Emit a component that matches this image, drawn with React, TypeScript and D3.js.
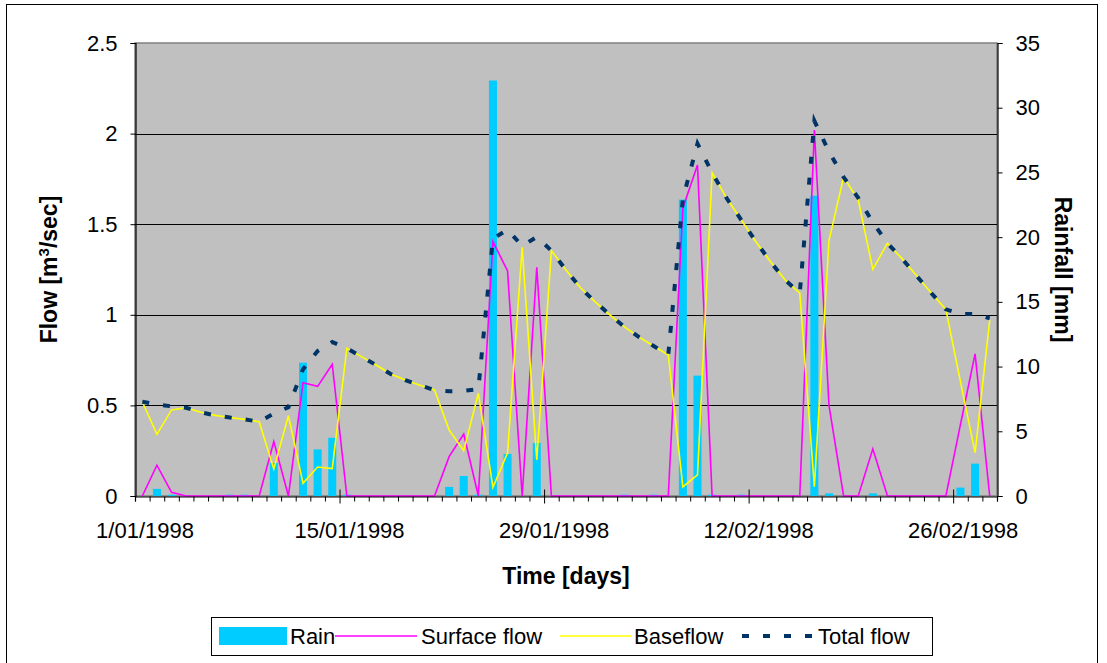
import * as d3 from 'd3';
import React, { useRef, useEffect } from 'react';

const width = 1107;
const height = 663;
const plot = { left: 135, right: 997, top: 43, bottom: 496 };

// one category per day, 1 Jan .. 28 Feb 1998
const days = d3.timeDay.range(new Date(1998, 0, 1), new Date(1998, 2, 1));

const xTickLabels = ['1/01/1998', '15/01/1998', '29/01/1998', '12/02/1998', '26/02/1998'];
const xTickIndex = [0, 14, 28, 42, 56];
const flowTicks = [0, 0.5, 1, 1.5, 2, 2.5];
const rainTicks = [0, 5, 10, 15, 20, 25, 30, 35];

// rainfall [mm]
const rain = [
  0, 0.55, 0.1, 0, 0, 0, 0.1, 0.1, 0, 2.55,
  0, 10.3, 3.6, 4.5, 0.1, 0, 0, 0, 0, 0,
  0, 0.7, 1.55, 0.1, 32.1, 3.25, 0, 4.1, 0, 0,
  0, 0, 0, 0.1, 0, 0.1, 0, 22.9, 9.3, 0.1,
  0, 0.1, 0, 0, 0, 0, 23.2, 0.2, 0, 0,
  0.2, 0, 0, 0, 0, 0, 0.65, 2.5, 0,
];

// surface flow [m3/sec]
const surface = [
  0, 0.17, 0.02, 0, 0, 0, 0, 0, 0, 0.3,
  0, 0.625, 0.605, 0.727, 0, 0, 0, 0, 0, 0,
  0, 0.217, 0.342, 0, 1.404, 1.242, 0, 1.262, 0, 0,
  0, 0, 0, 0, 0, 0, 0, 1.59, 1.827, 0,
  0, 0, 0, 0, 0, 0, 2.02, 0.5, 0, 0,
  0.26, 0, 0, 0, 0, 0, 0.395, 0.784, 0,
];

// baseflow [m3/sec]
const baseflow = [
  0.52, 0.34, 0.475, 0.487, 0.462, 0.445, 0.433, 0.423, 0.41, 0.149,
  0.443, 0.07, 0.16, 0.151, 0.815, 0.769, 0.723, 0.673, 0.64, 0.611,
  0.585, 0.364, 0.25, 0.567, 0.048, 0.239, 1.372, 0.199, 1.354, 1.247,
  1.148, 1.071, 1.0, 0.933, 0.877, 0.828, 0.778, 0.05, 0.116, 1.784,
  1.643, 1.523, 1.403, 1.293, 1.192, 1.119, 0.051, 1.41, 1.76, 1.634,
  1.251, 1.395, 1.31, 1.215, 1.12, 1.03, 0.63, 0.239, 0.971,
];

// total flow [m3/sec]
const total = [
  0.52, 0.505, 0.495, 0.487, 0.462, 0.445, 0.433, 0.423, 0.41, 0.455,
  0.49, 0.7, 0.8, 0.85, 0.815, 0.769, 0.723, 0.673, 0.64, 0.611,
  0.585, 0.578, 0.58, 0.59, 1.42, 1.47, 1.38, 1.43, 1.354, 1.247,
  1.148, 1.071, 1.0, 0.933, 0.877, 0.828, 0.778, 1.64, 1.945, 1.784,
  1.643, 1.523, 1.403, 1.293, 1.192, 1.119, 2.07, 1.9, 1.76, 1.645,
  1.51, 1.395, 1.31, 1.215, 1.12, 1.03, 1.005, 1.005, 0.98,
];

const font = '"Liberation Sans", Arial, sans-serif';

function App() {
  const ref = useRef<SVGSVGElement>(null);

  useEffect(() => {
    draw();
  }, []); // eslint-disable-line react-hooks/exhaustive-deps

  const draw = () => {
    const svg = d3.select(ref.current);
    svg.selectAll('*').remove();

    const x = d3.scaleLinear().domain([0, days.length]).range([plot.left, plot.right]);
    const band = (plot.right - plot.left) / days.length;
    const yFlow = d3.scaleLinear().domain([0, 2.5]).range([plot.bottom, plot.top]);
    const yRain = d3.scaleLinear().domain([0, 35]).range([plot.bottom, plot.top]);

    // chart area border
    svg
      .append('rect')
      .attr('x', 6.5)
      .attr('y', 4.5)
      .attr('width', 1091)
      .attr('height', 700)
      .attr('fill', '#fff')
      .attr('stroke', '#000');

    // plot area
    svg
      .append('rect')
      .attr('x', plot.left)
      .attr('y', plot.top)
      .attr('width', plot.right - plot.left)
      .attr('height', plot.bottom - plot.top)
      .attr('fill', '#c0c0c0')
      .attr('stroke', '#808080')
      .attr('stroke-width', 1.5);

    // gridlines
    svg
      .append('g')
      .selectAll('line')
      .data(flowTicks.slice(1, -1))
      .enter()
      .append('line')
      .attr('x1', plot.left)
      .attr('x2', plot.right)
      .attr('y1', (d) => Math.round(yFlow(d)) + 0.5)
      .attr('y2', (d) => Math.round(yFlow(d)) + 0.5)
      .attr('stroke', '#000');

    // rain bars
    const barW = band * 0.55;
    svg
      .append('g')
      .selectAll('rect')
      .data(rain)
      .enter()
      .append('rect')
      .attr('x', (d, i) => x(i + 0.5) - barW / 2)
      .attr('y', (d) => yRain(d))
      .attr('width', barW)
      .attr('height', (d) => yRain(0) - yRain(d))
      .attr('fill', '#00ccff');

    const line = d3
      .line<number>()
      .x((d, i) => x(i + 0.5))
      .y((d) => yFlow(d));

    svg.append('path').attr('d', line(surface)).attr('fill', 'none').attr('stroke', '#ff00ff').attr('stroke-width', 1.6);
    svg.append('path').attr('d', line(baseflow)).attr('fill', 'none').attr('stroke', '#ffff00').attr('stroke-width', 1.6);
    svg
      .append('path')
      .attr('d', line(total))
      .attr('fill', 'none')
      .attr('stroke', '#003366')
      .attr('stroke-width', 4)
      .attr('stroke-dasharray', '7 14');

    // left axis
    const yAxisL = d3
      .axisLeft(yFlow)
      .tickValues(flowTicks)
      .tickSize(5)
      .tickFormat((d) => String(d));
    const gl = svg.append('g').attr('transform', `translate(${plot.left + 0.5},0)`).call(yAxisL);

    // right axis
    const yAxisR = d3
      .axisRight(yRain)
      .tickValues(rainTicks)
      .tickSize(5)
      .tickFormat((d) => String(d));
    const gr = svg.append('g').attr('transform', `translate(${plot.right + 0.5},0)`).call(yAxisR);

    [gl, gr].forEach((g) => {
      g.select('.domain').attr('stroke', '#000').attr('stroke-width', 1.2);
      g.selectAll('text').attr('font-size', 22).attr('font-family', font).attr('fill', '#000');
      g.selectAll('.tick line').attr('stroke', '#000');
    });
    gl.selectAll('text').attr('x', -18);
    gr.selectAll('text').attr('x', 18);

    // x axis: ticks on day boundaries
    const xAxis = d3
      .axisBottom(x)
      .tickValues(d3.range(0, days.length + 1))
      .tickSize(5)
      .tickFormat(() => '');
    const gx = svg.append('g').attr('transform', `translate(0,${plot.bottom + 0.5})`).call(xAxis);
    gx.select('.domain').attr('stroke', '#000').attr('stroke-width', 1.2);
    gx.selectAll('.tick line').attr('stroke', '#000');
    gx.selectAll('.tick')
      .filter((d: any) => d % 14 === 0 && d > 0 && d < days.length)
      .select('line')
      .attr('y1', -7)
      .attr('y2', 7);

    svg
      .append('g')
      .selectAll('text')
      .data(xTickLabels)
      .enter()
      .append('text')
      .attr('x', (d, i) => x(xTickIndex[i]) + 10)
      .attr('y', 538)
      .attr('text-anchor', 'middle')
      .attr('font-size', 22)
      .attr('font-family', font)
      .text((d) => d);

    // axis titles
    svg
      .append('text') // x axis title
      .attr('x', (plot.left + plot.right) / 2)
      .attr('y', 584)
      .attr('text-anchor', 'middle')
      .attr('font-size', 23)
      .attr('font-weight', 'bold')
      .attr('font-family', font)
      .text('Time [days]');

    const flowTitle = svg
      .append('text') // left y axis title
      .attr('transform', `translate(57,${(plot.top + plot.bottom) / 2}) rotate(-90)`)
      .attr('text-anchor', 'middle')
      .attr('font-size', 23)
      .attr('font-weight', 'bold')
      .attr('font-family', font);
    flowTitle.append('tspan').text('Flow [m');
    flowTitle.append('tspan').attr('font-size', 15).attr('dy', -8).text('3');
    flowTitle.append('tspan').attr('dy', 8).text('/sec]');

    svg
      .append('text') // right y axis title
      .attr('transform', `translate(1055,${(plot.top + plot.bottom) / 2}) rotate(90)`)
      .attr('text-anchor', 'middle')
      .attr('font-size', 23)
      .attr('font-weight', 'bold')
      .attr('font-family', font)
      .text('Rainfall [mm]');

    // legend
    const lg = svg.append('g');
    lg.append('rect')
      .attr('x', 211.5)
      .attr('y', 617.5)
      .attr('width', 721)
      .attr('height', 38)
      .attr('fill', '#fff')
      .attr('stroke', '#000');
    const ly = 636;
    const items = [
      { label: 'Rain', x0: 219, x1: 287, tx: 290 },
      { label: 'Surface flow', x0: 335, x1: 417, tx: 421 },
      { label: 'Baseflow', x0: 560, x1: 632, tx: 634 },
      { label: 'Total flow', x0: 742, x1: 815, tx: 818 },
    ];
    lg.append('rect')
      .attr('x', items[0].x0)
      .attr('y', ly - 9)
      .attr('width', items[0].x1 - items[0].x0)
      .attr('height', 18)
      .attr('fill', '#00ccff');
    lg.append('line').attr('x1', items[1].x0).attr('x2', items[1].x1).attr('y1', ly).attr('y2', ly).attr('stroke', '#ff00ff').attr('stroke-width', 1.6);
    lg.append('line').attr('x1', items[2].x0).attr('x2', items[2].x1).attr('y1', ly).attr('y2', ly).attr('stroke', '#ffff00').attr('stroke-width', 1.6);
    lg.append('line')
      .attr('x1', items[3].x0)
      .attr('x2', items[3].x1)
      .attr('y1', ly)
      .attr('y2', ly)
      .attr('stroke', '#003366')
      .attr('stroke-width', 4)
      .attr('stroke-dasharray', '7 14');
    lg.selectAll('text.lbl')
      .data(items)
      .enter()
      .append('text')
      .attr('class', 'lbl')
      .attr('x', (d) => d.tx)
      .attr('y', ly + 8)
      .attr('font-size', 22)
      .attr('font-family', font)
      .text((d) => d.label);
  };

  return (
    <div style={{ position: 'absolute', left: 0, top: 0 }}>
      <svg ref={ref} width={width} height={height} style={{ display: 'block' }} />
    </div>
  );
}

export default App;
